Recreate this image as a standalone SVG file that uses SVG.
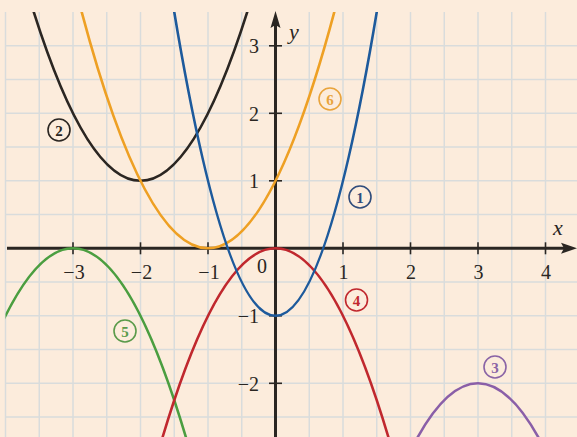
<svg xmlns="http://www.w3.org/2000/svg" width="577" height="437" viewBox="0 0 577 437">
<style>
.grid line{stroke:#d9dcdc;stroke-width:1.5}
.curve{fill:none;stroke-width:2.6;stroke-linecap:round}
.axis{stroke:#2a2622;stroke-width:3;fill:none}
.tick{stroke:#2a2622;stroke-width:1.6}
.num{font-family:"Liberation Serif","DejaVu Serif",serif;font-size:20px;fill:#2a2622}
.var{font-family:"Liberation Serif","DejaVu Serif",serif;font-size:22px;font-style:italic;fill:#2a2622}
.lab circle{fill:none;stroke-width:1.6}
.lab text{font-family:"Liberation Serif","DejaVu Serif",serif;font-size:15px;font-weight:bold;text-anchor:middle}
</style>
<defs>
<clipPath id="plot"><rect x="5.5" y="12" width="572" height="425"/></clipPath>
</defs>
<rect x="0" y="0" width="577" height="437" fill="#fcecdc"/>
<g class="grid" id="grid">
<line x1="5.5" y1="12" x2="5.5" y2="437"/>
<line x1="39.25" y1="12" x2="39.25" y2="437"/>
<line x1="73" y1="12" x2="73" y2="437"/>
<line x1="106.75" y1="12" x2="106.75" y2="437"/>
<line x1="140.5" y1="12" x2="140.5" y2="437"/>
<line x1="174.25" y1="12" x2="174.25" y2="437"/>
<line x1="208" y1="12" x2="208" y2="437"/>
<line x1="241.75" y1="12" x2="241.75" y2="437"/>
<line x1="309.25" y1="12" x2="309.25" y2="437"/>
<line x1="343" y1="12" x2="343" y2="437"/>
<line x1="376.75" y1="12" x2="376.75" y2="437"/>
<line x1="410.5" y1="12" x2="410.5" y2="437"/>
<line x1="444.25" y1="12" x2="444.25" y2="437"/>
<line x1="478" y1="12" x2="478" y2="437"/>
<line x1="511.75" y1="12" x2="511.75" y2="437"/>
<line x1="545.5" y1="12" x2="545.5" y2="437"/>
<line x1="5.5" y1="45.8" x2="577" y2="45.8"/>
<line x1="5.5" y1="79.55" x2="577" y2="79.55"/>
<line x1="5.5" y1="113.3" x2="577" y2="113.3"/>
<line x1="5.5" y1="147.05" x2="577" y2="147.05"/>
<line x1="5.5" y1="180.8" x2="577" y2="180.8"/>
<line x1="5.5" y1="214.55" x2="577" y2="214.55"/>
<line x1="5.5" y1="282.05" x2="577" y2="282.05"/>
<line x1="5.5" y1="315.8" x2="577" y2="315.8"/>
<line x1="5.5" y1="349.55" x2="577" y2="349.55"/>
<line x1="5.5" y1="383.3" x2="577" y2="383.3"/>
<line x1="5.5" y1="417.05" x2="577" y2="417.05"/>
</g>
<g id="axes">
<line class="axis" x1="7" y1="248.3" x2="565" y2="248.3"/>
<polygon points="577,248.3 561,242.8 564,248.3 561,253.8" fill="#2a2622"/>
<line class="axis" x1="275.5" y1="437" x2="275.5" y2="24"/>
<polygon points="275.5,11 270.5,28 275.5,25 280.5,28" fill="#2a2622"/>
<g class="tick">
<line x1="73" y1="242.3" x2="73" y2="254.3"/>
<line x1="140.5" y1="242.3" x2="140.5" y2="254.3"/>
<line x1="208" y1="242.3" x2="208" y2="254.3"/>
<line x1="343" y1="242.3" x2="343" y2="254.3"/>
<line x1="410.5" y1="242.3" x2="410.5" y2="254.3"/>
<line x1="478" y1="242.3" x2="478" y2="254.3"/>
<line x1="545.5" y1="242.3" x2="545.5" y2="254.3"/>
<line x1="269" y1="45.8" x2="282" y2="45.8"/>
<line x1="269" y1="113.3" x2="282" y2="113.3"/>
<line x1="269" y1="180.8" x2="282" y2="180.8"/>
<line x1="269" y1="315.8" x2="282" y2="315.8"/>
<line x1="269" y1="383.3" x2="282" y2="383.3"/>
</g>
<g class="num" text-anchor="middle">
<text x="74" y="279">−3</text>
<text x="141.5" y="279">−2</text>
<text x="209" y="279">−1</text>
<text x="262" y="273">0</text>
<text x="343.5" y="279">1</text>
<text x="411" y="279">2</text>
<text x="478.5" y="279">3</text>
<text x="546" y="279">4</text>
</g>
<g class="num" text-anchor="end">
<text x="259" y="53">3</text>
<text x="259" y="120.5">2</text>
<text x="259" y="188">1</text>
<text x="259" y="323">−1</text>
<text x="259" y="390.5">−2</text>
</g>
<text class="var" x="289" y="39">y</text>
<text class="var" x="553" y="235">x</text>
</g>
<g id="curves" clip-path="url(#plot)">
<path id="c2" class="curve" stroke="#2b2622" d="M33.78,12.05 Q140.5,349.55 247.22,12.05"/>
<path id="c6" class="curve" stroke="#eea024" d="M81.72,12.05 Q208,484.55 334.28,12.05"/>
<path id="c5" class="curve" stroke="#4b9e40" d="M-43.91,450.8 Q73,45.8 189.91,450.8"/>
<path id="c4" class="curve" stroke="#c0282e" d="M158.59,450.8 Q275.5,45.8 392.41,450.8"/>
<path id="c1" class="curve" stroke="#1d5a9c" d="M174.25,12.05 Q275.5,619.55 376.75,12.05"/>
<path id="c3" class="curve" stroke="#8a5fa8" d="M410.5,450.8 Q478,315.8 545.5,450.8"/>
</g>
<g id="label2" class="lab"><circle cx="59" cy="130" r="11" stroke="#2b2622"/><text x="59" y="135.5" fill="#2b2622">2</text></g>
<g id="label6" class="lab"><circle cx="330" cy="99" r="11" stroke="#e9a43c"/><text x="330" y="104.5" fill="#e9a43c">6</text></g>
<g id="label1" class="lab"><circle cx="360" cy="197" r="11" stroke="#2f4c7c"/><text x="360" y="202.5" fill="#2f4c7c">1</text></g>
<g id="label4" class="lab"><circle cx="356.5" cy="300" r="11" stroke="#c0282e"/><text x="356.5" y="305.5" fill="#c0282e">4</text></g>
<g id="label5" class="lab"><circle cx="125" cy="331" r="11" stroke="#5a9a4a"/><text x="125" y="336.5" fill="#5a9a4a">5</text></g>
<g id="label3" class="lab"><circle cx="495" cy="367" r="11" stroke="#8a64a6"/><text x="495" y="372.5" fill="#8a64a6">3</text></g>
</svg>
